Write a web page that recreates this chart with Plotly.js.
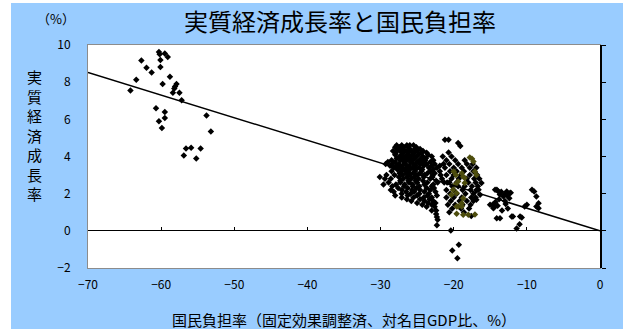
<!DOCTYPE html>
<html>
<head>
<meta charset="utf-8">
<script src="https://cdn.plot.ly/plotly-3.0.1.min.js"></script>
<style>
html,body{margin:0;padding:0;background:#ffffff;width:623px;height:329px;overflow:hidden;}
#chart{position:absolute;left:11px;top:3px;width:612px;height:326px;}
</style>
</head>
<body>
<div id="chart"></div>
<script>
// Series: [国民負担率, 実質経済成長率]
const earlyPoints = [
[-60.3,9.63],[-60.2,9.50],[-59.5,9.54],[-59.1,9.36],[-60.1,9.19],[-62.7,9.17],[-62.0,8.77],[-61.3,8.52],
[-60.1,8.81],[-58.8,8.29],[-63.4,8.13],[-64.2,7.55],[-59.8,7.90],[-57.9,7.90],[-58.1,7.77],[-58.2,7.66],
[-58.4,7.43],[-57.5,7.43],[-57.2,7.03],[-60.7,6.60],[-59.5,6.40],[-59.5,6.07],[-60.3,5.90],[-59.9,5.54],
[-53.8,6.21],[-53.2,5.34],[-56.6,4.43],[-55.9,4.47],[-54.6,4.43],[-56.9,4.05],[-55.2,3.89]
];
const mainPoints = [
[-27.8,4.6],[-27.1,4.6],[-26.4,4.6],[-26.0,4.6],[-25.5,4.6],
[-28.0,4.5],[-27.4,4.5],[-26.8,4.5],[-26.2,4.5],[-25.1,4.5],
[-27.7,4.4],[-27.0,4.4],[-26.0,4.4],[-25.3,4.4],[-24.6,4.4],
[-28.3,4.3],[-27.3,4.3],[-26.5,4.3],[-25.8,4.3],[-25.0,4.3],[-24.2,4.3],
[-27.9,4.2],[-26.9,4.2],[-26.2,4.2],[-25.4,4.2],[-24.4,4.2],[-23.7,4.2],
[-28.0,4.1],[-27.1,4.1],[-26.3,4.1],[-25.6,4.1],[-24.8,4.1],[-23.5,4.1],
[-27.4,4.0],[-26.6,4.0],[-25.9,4.0],[-25.1,4.0],[-24.2,4.0],[-23.0,4.0],
[-27.8,3.9],[-26.9,3.9],[-26.1,3.9],[-25.3,3.9],[-24.4,3.9],[-23.8,3.9],
[-28.5,3.8],[-27.3,3.8],[-26.4,3.8],[-25.6,3.8],[-24.7,3.8],[-23.9,3.8],[-22.8,3.8],
[-29.0,3.7],[-28.0,3.7],[-26.8,3.7],[-25.9,3.7],[-25.0,3.7],[-24.2,3.7],[-23.2,3.7],
[-29.3,3.6],[-28.4,3.6],[-27.5,3.6],[-26.6,3.6],[-25.5,3.6],[-24.6,3.6],[-23.7,3.6],[-22.6,3.6],[-21.4,3.6],
[-28.7,3.5],[-27.8,3.5],[-27.0,3.5],[-26.1,3.5],[-25.2,3.5],[-24.1,3.5],[-23.0,3.5],[-21.9,3.5],
[-28.2,3.4],[-27.3,3.4],[-26.4,3.4],[-25.6,3.4],[-24.7,3.4],[-23.4,3.4],[-22.3,3.4],
[-27.7,3.3],[-26.8,3.3],[-26.0,3.3],[-25.2,3.3],[-24.3,3.3],[-22.8,3.3],
[-28.5,3.2],[-27.1,3.2],[-26.2,3.2],[-25.3,3.2],[-24.4,3.2],[-23.2,3.2],[-21.9,3.2],
[-27.4,3.1],[-26.5,3.1],[-25.5,3.1],[-24.6,3.1],[-23.6,3.1],[-22.6,3.1],
[-29.2,3.0],[-28.1,3.0],[-27.0,3.0],[-26.0,3.0],[-25.0,3.0],[-24.0,3.0],[-22.9,3.0],[-21.8,3.0],
[-30.1,2.9],[-29.4,2.8],[-27.5,2.9],[-26.4,2.9],[-25.4,2.9],[-24.1,2.9],[-22.9,2.9],
[-28.6,2.8],[-26.9,2.8],[-25.8,2.8],[-24.8,2.8],[-23.2,2.8],[-21.6,2.8],
[-27.3,2.7],[-26.2,2.7],[-25.2,2.7],[-24.2,2.7],[-22.4,2.7],
[-28.9,2.6],[-27.3,2.6],[-26.1,2.6],[-25.0,2.6],[-23.6,2.6],[-22.2,2.6],[-20.9,2.6],
[-29.6,2.5],[-27.9,2.5],[-26.7,2.5],[-25.6,2.5],[-24.0,2.5],[-22.8,2.5],
[-28.4,2.4],[-26.8,2.4],[-25.6,2.4],[-24.7,2.4],[-23.0,2.4],
[-27.6,2.3],[-26.3,2.3],[-25.1,2.3],[-23.7,2.3],[-22.7,2.3],
[-28.6,2.2],[-27.1,2.2],[-25.7,2.2],[-24.6,2.2],[-23.2,2.2],
[-28.2,2.1],[-26.5,2.1],[-25.4,2.1],[-24.0,2.1],[-22.5,2.1],
[-27.1,2.0],[-25.9,2.0],[-24.7,2.0],[-23.4,2.0],
[-28.0,1.9],[-26.3,1.9],[-25.0,1.9],[-23.6,1.9],[-22.3,1.9],
[-27.1,1.8],[-25.5,1.8],[-24.1,1.8],[-23.0,1.8],
[-26.4,1.7],[-24.6,1.7],[-23.3,1.7],
[-25.8,1.6],[-24.0,1.6],[-22.8,1.6],
[-25.0,1.5],[-23.5,1.5],[-22.5,1.5],
[-24.3,1.4],[-23.0,1.4],
[-23.7,1.3],[-22.6,1.3],
[-23.0,1.1],[-22.4,1.1],
[-22.4,0.9],[-22.3,0.75],[-22.2,0.6],[-22.3,0.3],
// second cluster
[-21.2,4.9],[-20.7,4.9],[-19.4,4.72],[-19.1,4.57],[-20.7,4.21],
[-21.5,4.0],[-20.3,4.0],
[-21.0,3.8],[-19.8,3.8],[-18.5,3.8],
[-20.6,3.6],[-19.4,3.6],[-18.2,3.6],[-17.4,3.6],
[-21.2,3.4],[-20.0,3.4],[-18.9,3.4],[-17.8,3.4],[-16.9,3.4],
[-20.5,3.2],[-19.6,3.2],[-18.6,3.2],[-17.3,3.2],
[-21.0,3.0],[-20.0,3.0],[-19.0,3.0],[-17.8,3.0],[-16.8,3.0],
[-20.3,2.8],[-19.3,2.8],[-18.2,2.8],[-17.2,2.8],[-16.5,2.8],
[-21.3,2.6],[-20.6,2.6],[-19.6,2.6],[-18.0,2.6],[-17.0,2.6],[-16.2,2.57],
[-20.2,2.4],[-19.4,2.4],[-18.5,2.4],[-17.5,2.4],[-16.7,2.4],
[-21.0,2.2],[-20.0,2.2],[-18.8,2.2],[-17.7,2.2],[-16.9,2.2],[-16.6,2.21],
[-20.5,2.0],[-19.6,2.0],[-18.4,2.0],[-17.3,2.0],[-16.4,1.94],
[-21.0,1.8],[-20.0,1.8],[-18.9,1.8],[-17.6,1.8],[-17.0,1.8],
[-20.4,1.6],[-19.2,1.6],[-18.2,1.6],[-17.3,1.6],[-16.9,1.67],
[-20.8,1.4],[-19.8,1.4],[-18.8,1.4],[-17.7,1.4],
[-20.2,1.2],[-19.0,1.2],[-17.9,1.2],
[-20.6,1.0],[-18.6,1.0],[-17.6,0.8],
[-20.4,0.02],[-20.2,-1.06],[-19.3,-0.75],[-19.5,-1.47],
// right clusters
[-14.35,2.21],[-13.89,2.12],[-12.75,2.12],[-12.3,2.03],[-14.1,2.21],
[-13.5,2.1],[-13.0,2.0],[-13.7,1.95],[-13.2,1.85],[-13.8,1.7],[-14.3,1.55],[-14.7,1.4],
[-14.0,1.35],[-14.5,1.25],[-13.0,1.6],[-12.7,1.9],[-12.4,1.75],[-12.9,1.45],[-12.2,2.05],
[-13.4,1.1],[-12.6,1.2],[-15.03,1.40],[-14.58,1.22],[-14.12,0.68],[-13.67,0.68],
[-12.07,0.77],[-10.93,0.77],[-11.4,0.12],[-11.0,0.36],[-11.9,0.77],[-10.7,0.72],
[-10.0,1.40],[-10.3,1.31],
[-9.3,2.21],[-9.0,2.12],[-8.7,1.85],[-8.4,1.49],[-8.7,1.31],[-8.4,1.22]
];
const recentPoints = [
[-17.8,3.95],[-17.5,3.88],[-17.3,3.73],[-20.0,3.19],[-19.7,3.01],[-18.9,3.10],[-18.7,2.92],[-18.5,2.84],
[-17.1,3.19],[-16.9,3.01],[-19.4,2.65],[-19.8,2.48],[-18.5,2.57],[-20.1,2.21],[-20.3,1.94],[-19.6,2.03],
[-18.7,1.76],[-18.9,1.49],[-19.6,1.31],[-18.9,1.31],[-19.4,1.31],
[-19.6,0.92],[-18.7,0.86],[-18.0,0.86],[-17.1,0.88]
];
const trendX = [-70, 0];
const trendY = [8.52, 0];

const xTicks = [-70,-60,-50,-40,-30,-20,-10,0];
const yTicks = [-2,0,2,4,6,8,10];

const allBlack = earlyPoints.concat(mainPoints);
const font = '"Noto Sans CJK JP", "Noto Sans", sans-serif';

const traces = [
  {x: allBlack.map(p=>p[0]), y: allBlack.map(p=>p[1]), type:'scatter', mode:'markers',
   marker:{symbol:'diamond', size:5, color:'#000000'}, hoverinfo:'skip', xaxis:'x', yaxis:'y'},
  {x: recentPoints.map(p=>p[0]), y: recentPoints.map(p=>p[1]), type:'scatter', mode:'markers',
   marker:{symbol:'diamond', size:5, color:'#4d4d0d'}, hoverinfo:'skip', xaxis:'x', yaxis:'y'},
  {x: trendX, y: trendY, type:'scatter', mode:'lines', line:{color:'#000000', width:1.5},
   hoverinfo:'skip', xaxis:'x2', yaxis:'y2'}
];

const layout = {
  width:612, height:326,
  margin:{l:77, r:23, t:42, b:61, pad:0},
  paper_bgcolor:'#99ccff', plot_bgcolor:'#ffffff',
  showlegend:false,
  font:{family:font, size:12, color:'#000000'},
  xaxis:{range:[-70,0], tickvals:xTicks, ticktext:xTicks.map(v=>v<0?'−'+Math.abs(v):String(v)),
         showgrid:false, zeroline:false, showline:true, linecolor:'#8c8c8c', linewidth:1, mirror:true,
         ticks:'', ticklabelstandoff:6, tickfont:{family:font, size:12}},
  yaxis:{range:[-2,10], tickvals:yTicks, ticktext:yTicks.map(v=>v<0?'−'+Math.abs(v):String(v)),
         showgrid:false, zeroline:true, zerolinecolor:'#000000', zerolinewidth:1,
         showline:true, linecolor:'#8c8c8c', linewidth:1, mirror:true,
         ticks:'', ticklabelstandoff:14, tickfont:{family:font, size:12}},
  xaxis2:{range:[-70,0], overlaying:'x', anchor:'free', position:1/6, side:'bottom',
          tickvals:xTicks, ticks:'inside', ticklen:4, tickcolor:'#000000', tickwidth:1,
          showticklabels:false, showline:false, showgrid:false, zeroline:false},
  yaxis2:{range:[-2,10], overlaying:'y', anchor:'x2', side:'right',
          tickvals:yTicks, ticks:'outside', ticklen:4, tickcolor:'#000000', tickwidth:1,
          showticklabels:false, showline:true, linecolor:'#000000', linewidth:1.5,
          showgrid:false, zeroline:false},
  annotations:[
    {text:'実質経済成長率と国民負担率', xref:'paper', yref:'paper', x:0.492, y:1.112,
     xanchor:'center', yanchor:'middle', showarrow:false, font:{family:font, size:24, color:'#000000'}},
    {text:'（%）', xref:'paper', yref:'paper', x:-0.0625, y:1.121, xanchor:'center', yanchor:'middle',
     showarrow:false, font:{family:font, size:13}},
    {text:'実<br>質<br>経<br>済<br>成<br>長<br>率', xref:'paper', yref:'paper', x:-0.1045, y:0.596,
     xanchor:'center', yanchor:'middle', showarrow:false, font:{family:font, size:15}},
    {text:'国民負担率（固定効果調整済、対名目GDP比、%）', xref:'paper', yref:'paper', x:0.5, y:-0.233,
     xanchor:'center', yanchor:'middle', showarrow:false, font:{family:font, size:15}}
  ]
};

Plotly.newPlot('chart', traces, layout, {staticPlot:true, displayModeBar:false});
</script>
</body>
</html>
